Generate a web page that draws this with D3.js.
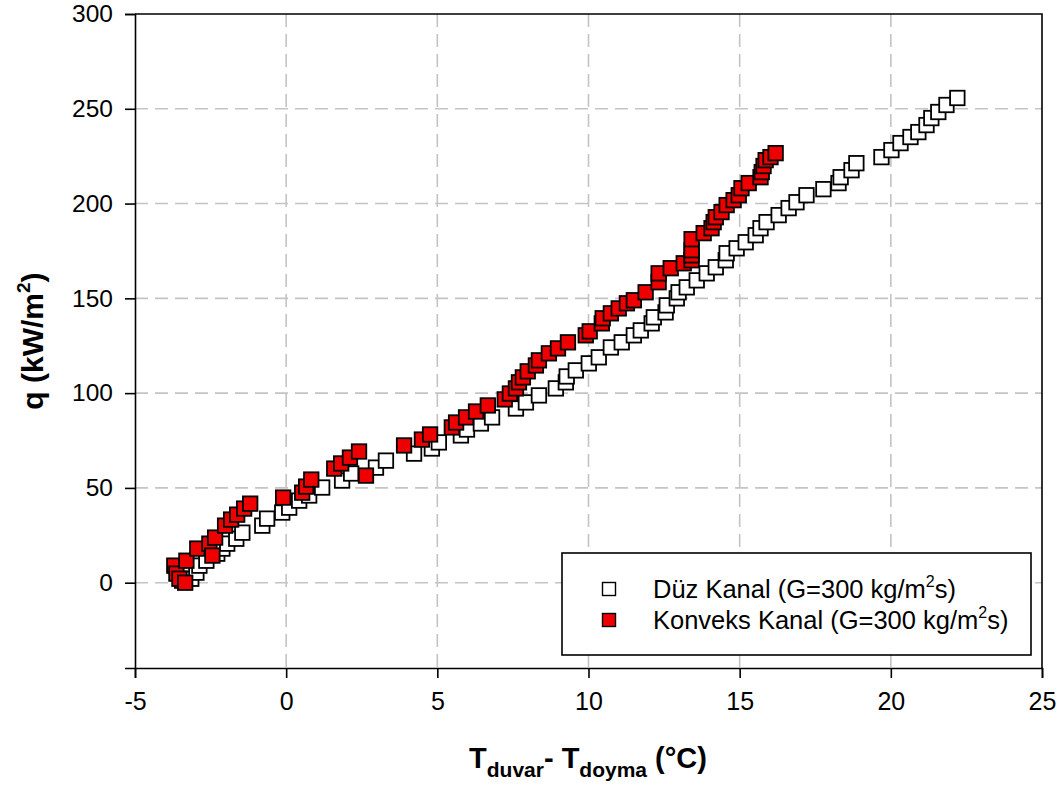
<!DOCTYPE html>
<html lang="tr">
	<head>
		<meta charset="utf-8">
		<title>q - (Tduvar - Tdoyma)</title>
		<script src="https://cdn.jsdelivr.net/npm/d3@7"></script>
		<style>
			body {
				margin: 0;
				background: white;
			}

			text {
				font-family: "Liberation Sans", Arial, sans-serif;
				fill: black;
			}

			.grid line {
				stroke: #c4c4c4;
				stroke-width: 1.6;
				stroke-dasharray: 13 7;
			}
		</style>
	</head>
	<body>
		<script>
			// Width and Height
			var w = 1062;
			var h = 789;

			// plot box (not called "top": that one belongs to window)
			var plotLeft = 135, plotRight = 1042, plotTop = 14, plotBottom = 668;


			// DATA

			// Düz Kanal (G=300 kg/m2s)
			var duzX = [-3.44, -3.14, -2.97, -2.87, -2.64, -2.28, -2.11, -1.95, -1.65, -1.45,
				-0.79, -0.63, -0.13, 0.10, 0.43, 0.76, 1.19, 1.85, 2.15, 2.97,
				3.30, 4.23, 4.82, 5.05, 5.78, 5.98, 6.44, 6.81, 7.60, 7.93,
				8.36, 8.92, 9.25, 9.28, 9.58, 10.01, 10.34, 10.74, 11.10, 11.50,
				11.73, 12.09, 12.16, 12.55, 12.59, 12.92, 12.98, 13.25, 13.58, 13.91,
				14.21, 14.54, 14.57, 14.90, 15.20, 15.53, 15.69, 15.89, 16.29, 16.62,
				16.88, 17.21, 17.77, 18.27, 18.34, 18.70, 18.86, 19.69, 20.02, 20.32,
				20.65, 20.91, 21.18, 21.34, 21.57, 21.84, 22.20];
			var duzQ = [1.1, 2.1, 5.3, 9.0, 11.6, 15.3, 18.0, 20.6, 23.2, 26.4,
				30.1, 33.8, 37.0, 39.6, 43.3, 46.0, 50.2, 53.9, 57.6, 60.7,
				64.4, 68.1, 70.8, 74.0, 77.7, 80.8, 84.0, 87.2, 91.9, 95.1,
				98.8, 102.5, 105.7, 108.8, 112.0, 115.7, 118.9, 124.1, 126.8, 130.5,
				133.1, 136.8, 140.0, 142.6, 146.3, 150.0, 153.2, 155.8, 159.5, 163.2,
				166.4, 170.1, 173.8, 176.4, 179.6, 183.3, 187.0, 190.2, 193.9, 197.6,
				200.7, 204.4, 207.6, 210.8, 213.9, 217.6, 221.3, 224.5, 228.2, 231.9,
				235.1, 237.7, 241.4, 245.1, 248.3, 252.0, 255.7];

			// Konveks Kanal (G=300 kg/m2s)
			var konveksX = [-3.70, -3.63, -3.53, -3.34, -3.30, -2.94, -2.54, -2.44, -2.35, -2.02,
				-1.82, -1.62, -1.39, -1.19, -0.10, 0.53, 0.66, 0.83, 1.59, 1.82,
				2.11, 2.41, 2.64, 3.90, 4.49, 4.76, 5.48, 5.62, 5.95, 6.28,
				6.67, 7.23, 7.40, 7.60, 7.70, 7.83, 7.99, 8.26, 8.36, 8.69,
				8.99, 9.32, 9.91, 10.04, 10.44, 10.47, 10.74, 11.00, 11.27, 11.50,
				11.89, 12.32, 12.32, 12.72, 13.15, 13.41, 13.41, 13.41, 13.41, 13.81,
				14.07, 14.14, 14.21, 14.40, 14.57, 14.80, 14.97, 15.06, 15.30, 15.69,
				15.73, 15.79, 15.86, 16.02, 16.19];
			var konveksQ = [9.0, 4.8, 2.1, 0.0, 11.6, 18.0, 20.6, 14.3, 23.8, 30.1,
				33.3, 35.9, 39.1, 41.7, 44.9, 47.5, 50.7, 54.4, 60.2, 62.9,
				66.0, 69.2, 56.5, 72.4, 75.5, 78.2, 81.9, 84.5, 87.2, 90.3,
				93.5, 96.7, 99.8, 102.5, 105.7, 108.3, 111.5, 114.6, 117.3, 121.0,
				123.6, 126.8, 130.5, 132.6, 136.8, 139.5, 142.1, 144.7, 147.4, 149.0,
				153.2, 158.5, 163.2, 165.9, 168.5, 170.1, 172.7, 175.4, 181.2, 184.4,
				187.0, 190.2, 192.8, 195.5, 199.2, 201.8, 204.4, 208.1, 210.8, 213.9,
				216.6, 219.8, 222.9, 224.5, 226.6];

			var xTicks = [-5, 0, 5, 10, 15, 20, 25];
			var yTicks = [0, 50, 100, 150, 200, 250, 300];


			// SCALES

			var x = d3.scaleLinear().domain([-5, 25]).range([plotLeft, plotRight]);
			var y = d3.scaleLinear().domain([-45, 300]).range([plotBottom, plotTop]);

			var svg = d3.select("body").append("svg")
				.attr("width", w)
				.attr("height", h);


			// GRID (dashed gray)

			var grid = svg.append("g").attr("class", "grid");

			grid.selectAll("line.v")
				.data(xTicks.slice(1, -1))
				.enter()
				.append("line")
				.attr("class", "v")
				.attr("x1", function(d) { return x(d); })
				.attr("x2", function(d) { return x(d); })
				.attr("y1", plotTop)
				.attr("y2", plotBottom);

			grid.selectAll("line.h")
				.data(yTicks.slice(0, -1))
				.enter()
				.append("line")
				.attr("class", "h")
				.attr("x1", plotLeft)
				.attr("x2", plotRight)
				.attr("y1", function(d) { return y(d); })
				.attr("y2", function(d) { return y(d); });


			// POINTS

			function drawSquares(xs, qs, fill, size) {
				svg.append("g")
					.selectAll("rect")
					.data(xs.map(function(d, i) { return [d, qs[i]]; }))
					.enter()
					.append("rect")
					.attr("x", function(d) { return x(d[0]) - size / 2; })
					.attr("y", function(d) { return y(d[1]) - size / 2; })
					.attr("width", size)
					.attr("height", size)
					.attr("fill", fill)
					.attr("stroke", "black")
					.attr("stroke-width", 1.8);
			}

			drawSquares(duzX, duzQ, "white", 14.5);
			drawSquares(konveksX, konveksQ, "#ee0000", 14.5);


			// AXES

			// plain hyphen for the minus sign, as in the original
			var plain = function(d) { return String(d); };

			var xAxis = d3.axisBottom(x).tickValues(xTicks).tickFormat(plain)
				.tickSize(10).tickPadding(14);
			var yAxis = d3.axisLeft(y).tickValues(yTicks).tickFormat(plain)
				.tickSize(10).tickPadding(12);

			var gx = svg.append("g")
				.attr("transform", "translate(0," + plotBottom + ")")
				.call(xAxis);

			var gy = svg.append("g")
				.attr("transform", "translate(" + plotLeft + ",0)")
				.call(yAxis);

			gx.attr("font-family", null).attr("font-size", 25);
			gy.attr("font-family", null).attr("font-size", 24.5);

			svg.selectAll(".domain, .tick line")
				.attr("stroke", "black")
				.attr("stroke-width", 1.6);

			// the box: top and right edges
			svg.append("path")
				.attr("d", "M" + plotLeft + "," + plotTop + "H" + plotRight + "V" + plotBottom)
				.attr("fill", "none")
				.attr("stroke", "black")
				.attr("stroke-width", 1.6);


			// AXIS TITLES

			var yTitle = svg.append("text")
				.attr("transform", "translate(43," + ((plotTop + plotBottom) / 2) + ") rotate(-90)")
				.attr("text-anchor", "middle")
				.style("font-size", "30px")
				.style("font-weight", "bold");
			yTitle.append("tspan").text("q (kW/m");
			yTitle.append("tspan").attr("dy", -13).style("font-size", "19px").text("2");
			yTitle.append("tspan").attr("dy", 13).text(")");

			var xTitle = svg.append("text")
				.attr("x", 588)
				.attr("y", 768)
				.attr("text-anchor", "middle")
				.style("font-size", "29px")
				.style("font-weight", "bold");
			xTitle.append("tspan").text("T");
			xTitle.append("tspan").attr("dy", 9).style("font-size", "21px").text("duvar");
			xTitle.append("tspan").attr("dy", -9).text("- T");
			xTitle.append("tspan").attr("dy", 9).style("font-size", "21px").text("doyma");
			xTitle.append("tspan").attr("dy", -9).text(" (°C)");


			// LEGEND

			var legend = svg.append("g");

			legend.append("rect")
				.attr("x", 562)
				.attr("y", 553)
				.attr("width", 469)
				.attr("height", 102)
				.attr("fill", "white")
				.attr("stroke", "black")
				.attr("stroke-width", 1.6);

			var items = [
				{ name: "Düz Kanal (G=300 kg/m", fill: "white" },
				{ name: "Konveks Kanal (G=300 kg/m", fill: "#ee0000" }
			];

			items.forEach(function(d, i) {
				var cy = 589 + i * 31;
				legend.append("rect")
					.attr("x", 609 - 6.5)
					.attr("y", cy - 6.5)
					.attr("width", 13)
					.attr("height", 13)
					.attr("fill", d.fill)
					.attr("stroke", "black")
					.attr("stroke-width", 1.4);

				var t = legend.append("text")
					.attr("x", 653)
					.attr("y", cy + 9)
					.style("font-size", "25.5px");
				t.append("tspan").text(d.name);
				t.append("tspan").attr("dy", -11).style("font-size", "16px").text("2");
				t.append("tspan").attr("dy", 11).text("s)");
			});
		</script>
	</body>
</html>
